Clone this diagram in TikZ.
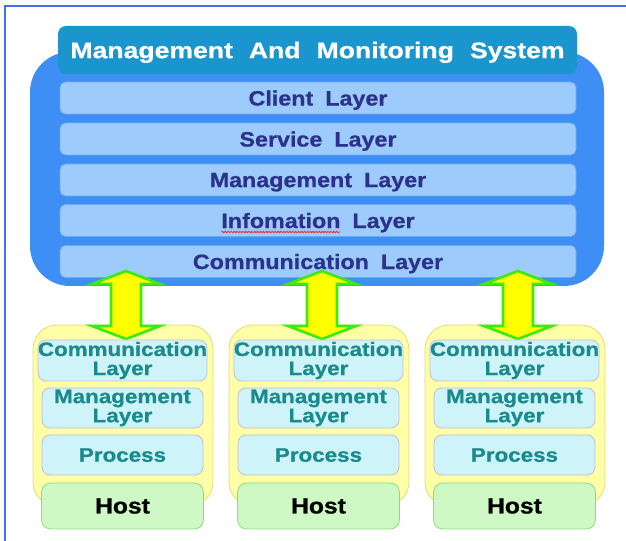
\documentclass[tikz,border=0pt]{standalone}
\usepackage{fontspec}
\setmainfont{Liberation Sans}
\newfontfamily\titlefam{Liberation Sans}[FakeStretch=1.18, FakeBold=0.8]
\newfontfamily\barfam{Liberation Sans}[FakeStretch=1.12, FakeBold=0.8]
\newfontfamily\colfam{Liberation Sans}[FakeStretch=1.15, FakeBold=0.8]
\usetikzlibrary{decorations.pathmorphing}

\definecolor{framec}{RGB}{70,110,240}
\definecolor{systemc}{RGB}{62,143,245}
\definecolor{titlec}{RGB}{26,149,205}
\definecolor{barc}{RGB}{157,204,252}
\definecolor{baredge}{RGB}{110,168,238}
\definecolor{bartext}{RGB}{44,50,140}
\definecolor{nodec}{RGB}{255,255,168}
\definecolor{nodeedge}{RGB}{228,218,120}
\definecolor{layerc}{RGB}{206,244,250}
\definecolor{layeredge}{RGB}{200,186,214}
\definecolor{layertext}{RGB}{26,138,140}
\definecolor{hostc}{RGB}{206,248,196}
\definecolor{hostedge}{RGB}{140,220,130}
\definecolor{arrowc}{RGB}{255,255,0}
\definecolor{arrowedge}{RGB}{60,235,20}

\newlength\infowidth
\newlength\infofull
\newcommand\titlefont{\titlefam\bfseries\fontsize{16.9}{19}\selectfont\spaceskip=12pt\relax}
\newcommand\barfont{\barfam\bfseries\fontsize{15.6}{18}\selectfont\spaceskip=9pt\relax}
\newcommand\colfont{\colfam\bfseries\fontsize{14.6}{14.3}\selectfont}
\newcommand\hostfont{\barfam\bfseries\fontsize{16.5}{19}\selectfont}

\tikzset{
  sysbox/.style={fill=systemc, draw=none, rounded corners=30pt,
    minimum width=430.5pt, minimum height=175.5pt},
  titlebox/.style={fill=titlec, draw=none, rounded corners=6pt, text depth=0pt,
    minimum width=389.25pt, minimum height=36pt, text=white, font=\titlefont},
  barbox/.style={fill=barc, draw=baredge, line width=0.5pt, rounded corners=4pt,
    text depth=0pt, minimum width=387pt, minimum height=24pt, text=bartext,
    font=\barfont},
  nodecol/.style={fill=nodec, draw=nodeedge, line width=0.6pt, rounded corners=18pt,
    minimum width=135pt, minimum height=135.75pt},
  layerbox/.style={fill=layerc, draw=layeredge, line width=0.6pt, rounded corners=6pt,
    minimum width=120.75pt, minimum height=30pt, text=layertext, align=center,
    inner sep=0pt, font=\colfont},
  hostbox/.style={fill=hostc, draw=hostedge, line width=0.6pt, rounded corners=7pt,
    minimum width=121.5pt, minimum height=34.5pt, text=black, font=\hostfont},
  blockarrow/.style={fill=arrowc, draw=arrowedge, line width=2pt, line join=miter},
  framing/.style={draw=framec, line width=1.5pt},
  spellmark/.style={draw=red!85!white, line width=0.6pt,
    decorate, decoration={snake, amplitude=0.6pt, segment length=2.2pt}}
}

\begin{document}
\settowidth{\infowidth}{\barfont Infomation}
\settowidth{\infofull}{\barfont Infomation Layer}
\begin{tikzpicture}[x=0.75pt, y=-0.75pt]
  \useasboundingbox (0,0) rectangle (626,541);

  % page frame: top and left rules
  \draw[framing] (5,541) -- (5,6) -- (626,6);

  % management and monitoring system
  \node[sysbox] (system) at (317,169) {};
  \node[titlebox] (title) at (317.5,50) {Management And Monitoring System};
  \node[barbox] (client)  at (318,98)    {Client Layer};
  \node[barbox] (service) at (318,139)   {Service Layer};
  \node[barbox] (manage)  at (318,180)   {Management Layer};
  \node[barbox] (info)    at (318,220.5) {Infomation Layer};
  \node[barbox] (comm)    at (318,261.5) {Communication Layer};
  % red wavy mark under the misspelt word
  \coordinate (infostart) at ([xshift=-0.5\infofull, yshift=-3pt]info.base);
  \draw[spellmark] (infostart) -- ++(\infowidth,0pt);

  % hosts with their local layer stacks
  \foreach \n/\x in {1/123, 2/319, 3/515} {
    \node[nodecol] (col\n) at (\x,415.5) {};
  }
  % two-way links between the system and each host
  \foreach \n/\c in {1/126, 2/322, 3/518} {
    \coordinate (up\n) at (\c,271);
    \coordinate (dn\n) at (\c,339);
    \draw[blockarrow] (up\n) -- ++(34,13) -- ++(-19,0) -- ++(0,42) -- ++(19,0)
      -- (dn\n) -- ++(-34,-13) -- ++(19,0) -- ++(0,-42) -- ++(-19,0) -- cycle;
  }
  \foreach \n/\x in {1/122.5, 2/318.5, 3/514.5} {
    \node[layerbox, minimum height=30.75pt] (lcomm\n) at (\x,360.5) {Communication\\Layer};
    \node[layerbox] (lmanage\n) at (\x,408) {Management\\Layer};
    \node[layerbox, text depth=0pt] (proc\n) at (\x,455) {Process};
    \node[hostbox] (host\n) at (\x,506) {Host};
  }
\end{tikzpicture}
\end{document}
